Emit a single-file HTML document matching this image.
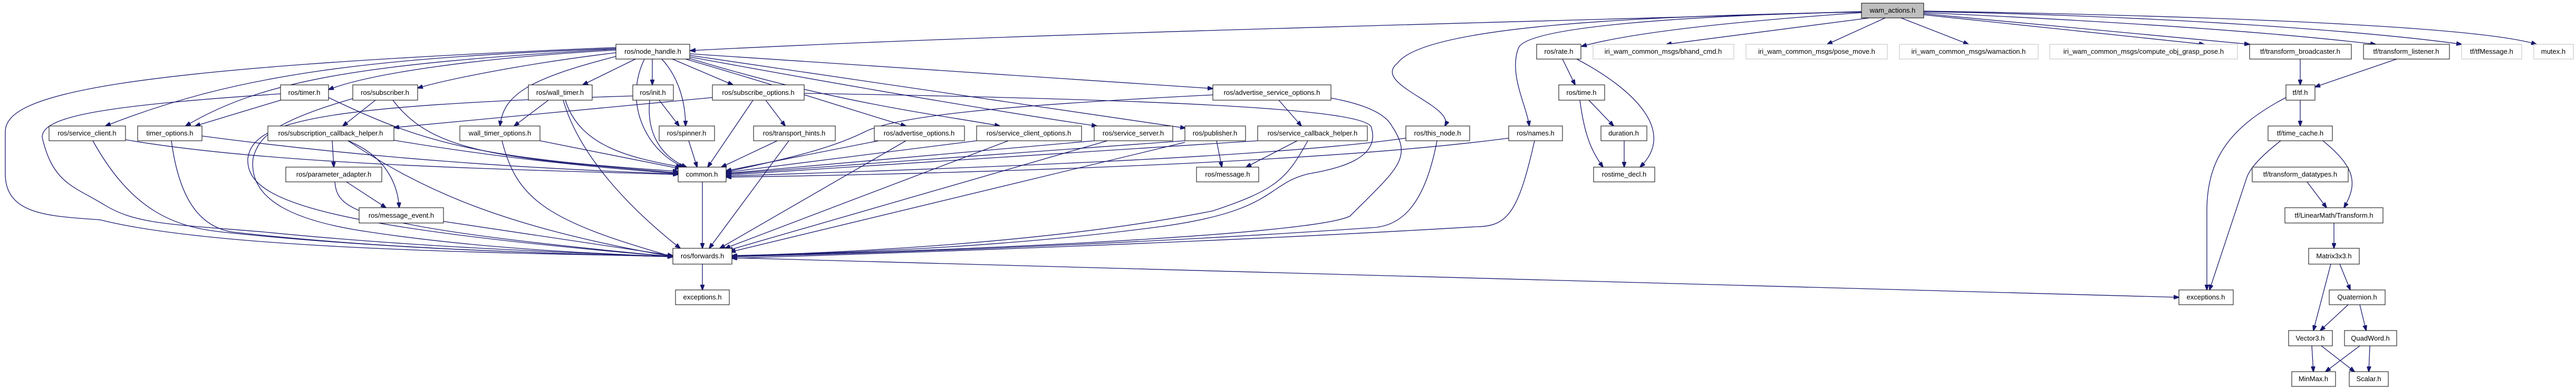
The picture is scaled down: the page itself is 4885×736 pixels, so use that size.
<!DOCTYPE html>
<html><head><meta charset="utf-8"><style>
html,body{margin:0;padding:0;background:#fff;}
svg{display:block;}
text{font-family:"Liberation Sans",sans-serif;font-size:13px;fill:#000;text-anchor:middle;}
.e{fill:none;stroke:#191970;stroke-width:1.3;marker-end:url(#a);}
.n{fill:#fff;stroke:#000;stroke-width:1;}
.g{fill:#fff;stroke:#bfbfbf;stroke-width:1;}
</style></head><body>
<svg width="4885" height="736" viewBox="0 0 4885 736" xmlns="http://www.w3.org/2000/svg">
<defs><marker id="a" markerWidth="11" markerHeight="8" refX="10" refY="4" orient="auto" markerUnits="userSpaceOnUse"><path d="M0,0 L11,4 L0,8 z" fill="#191970" stroke="#191970"/></marker></defs>
<g>
<!-- wam_actions edges -->
<path class="e" d="M3530,22 C3000,40 2000,60 1309,96"/>
<path class="e" d="M3530,24 C3300,40 3100,60 2999,88"/>
<path class="e" d="M3530,23 C3100,30 2700,50 2650,120 C2600,160 2760,200 2740,239"/>
<path class="e" d="M3530,22 C3200,30 2900,50 2880,90 C2860,140 2895,200 2900,239"/>
<path class="e" d="M3545,34 L3160,84"/>
<path class="e" d="M3575,34 L3465,84"/>
<path class="e" d="M3605,34 L3733,84"/>
<path class="e" d="M3648,28 L4180,84"/>
<path class="e" d="M3648,26 L4266,84"/>
<path class="e" d="M3648,24 C4000,40 4300,60 4505,84"/>
<path class="e" d="M3648,22 C4100,30 4500,60 4668,84"/>
<path class="e" d="M3648,21 C4200,30 4700,50 4810,84"/>
<!-- node_handle edges -->
<path class="e" d="M1168,95 C900,110 700,140 623,170"/>
<path class="e" d="M1168,100 C1000,120 850,150 792,167"/>
<path class="e" d="M1168,92 C700,110 450,140 200,239"/>
<path class="e" d="M1168,93 C700,120 500,150 352,239"/>
<path class="e" d="M1205,112 L1105,161"/>
<path class="e" d="M1168,107 C1000,150 955,180 948,239"/>
<path class="e" d="M1237,112 L1237,161"/>
<path class="e" d="M1255,112 C1290,150 1300,200 1300,239"/>
<path class="e" d="M1275,112 L1390,161"/>
<path class="e" d="M1300,112 C1500,170 1650,220 1718,239"/>
<path class="e" d="M1305,110 C1600,200 1800,220 1896,239"/>
<path class="e" d="M1308,108 C1700,180 1950,220 2080,239"/>
<path class="e" d="M1308,105 C1800,180 2100,220 2248,243"/>
<path class="e" d="M1308,102 L2300,168"/>
<path class="e" d="M1222,112 C1180,200 1230,290 1297,317"/>
<path class="e" d="M1168,90 C200,130 10,180 10,250 L10,330 C10,410 100,410 190,417 C400,470 900,480 1276,486"/>
<!-- into common.h -->
<path class="e" d="M623,185 C800,270 900,300 1286,325"/>
<path class="e" d="M745,190 C820,290 950,300 1286,328"/>
<path class="e" d="M238,265 C500,310 900,320 1286,331"/>
<path class="e" d="M383,258 C700,300 1000,320 1286,330"/>
<path class="e" d="M747,266 C950,300 1150,320 1286,329"/>
<path class="e" d="M1024,267 L1290,320"/>
<path class="e" d="M1072,190 C1100,280 1200,300 1292,317"/>
<path class="e" d="M1232,190 C1225,260 1260,300 1302,317"/>
<path class="e" d="M1306,267 L1322,317"/>
<path class="e" d="M1428,190 L1342,317"/>
<path class="e" d="M1474,267 L1368,317"/>
<path class="e" d="M1666,267 L1377,324"/>
<path class="e" d="M1852,267 L1377,327"/>
<path class="e" d="M2075,267 L1377,329"/>
<path class="e" d="M2247,267 L1377,330"/>
<path class="e" d="M2385,267 L1377,332"/>
<path class="e" d="M2300,180 C1900,200 1700,220 1640,250 C1580,280 1500,300 1377,326"/>
<path class="e" d="M2666,262 C2400,300 1800,320 1377,334"/>
<path class="e" d="M2861,262 C2500,310 1800,330 1377,336"/>
<!-- other -->
<path class="e" d="M1351,185 L747,242"/>
<path class="e" d="M712,190 L650,239"/>
<path class="e" d="M532,190 L370,239"/>
<path class="e" d="M1040,190 L975,239"/>
<path class="e" d="M1250,190 L1288,239"/>
<path class="e" d="M1452,190 L1489,239"/>
<path class="e" d="M2425,190 L2468,239"/>
<path class="e" d="M2307,267 L2317,317"/>
<path class="e" d="M2460,267 L2363,317"/>
<path class="e" d="M630,267 L633,317"/>
<path class="e" d="M660,267 C740,300 755,360 757,394"/>
<path class="e" d="M657,345 L732,394"/>
<path class="e" d="M2963,112 L2987,161"/>
<path class="e" d="M2990,112 C3100,170 3180,250 3110,317"/>
<path class="e" d="M3013,190 L3060,239"/>
<path class="e" d="M2996,190 C3005,260 3020,290 3040,317"/>
<path class="e" d="M3080,267 L3080,317"/>
<path class="e" d="M4362,112 L4362,161"/>
<path class="e" d="M4545,112 L4390,165"/>
<path class="e" d="M4362,190 L4362,239"/>
<path class="e" d="M4335,185 C4230,240 4185,300 4185,400 L4185,550"/>
<path class="e" d="M4325,267 C4270,310 4262,330 4258,345 L4190,550"/>
<path class="e" d="M4405,267 C4470,320 4470,350 4445,394"/>
<path class="e" d="M4375,345 L4412,394"/>
<path class="e" d="M4426,423 L4426,471"/>
<path class="e" d="M4437,501 L4457,550"/>
<path class="e" d="M4420,501 L4387,627"/>
<path class="e" d="M4453,578 L4400,627"/>
<path class="e" d="M4475,578 L4487,627"/>
<path class="e" d="M4384,656 L4387,705"/>
<path class="e" d="M4402,656 L4465,705"/>
<path class="e" d="M4475,656 L4410,705"/>
<path class="e" d="M4494,656 L4492,705"/>
<path class="e" d="M1332,501 L1332,550"/>
<path class="e" d="M1388,489 L4132,564"/>
<path class="e" d="M1332,345 L1332,471"/>
<!-- into forwards -->
<path class="e" d="M176,267 C250,400 330,430 420,440 C700,470 1000,480 1276,487"/>
<path class="e" d="M325,267 C340,380 380,430 440,440 C700,470 1000,480 1276,487"/>
<path class="e" d="M532,178 C200,200 80,220 80,260 C100,350 143,354 200,390 C260,425 319,425 500,440 C800,470 1100,480 1276,487"/>
<path class="e" d="M669,187 C520,230 490,260 480,300 C470,380 560,420 700,440 C900,470 1100,480 1276,487"/>
<path class="e" d="M660,267 C800,360 950,430 1276,487"/>
<path class="e" d="M635,345 C640,400 670,430 1276,487"/>
<path class="e" d="M841,420 L1276,485"/>
<path class="e" d="M1068,190 C1100,300 1200,400 1290,471"/>
<path class="e" d="M952,267 C980,380 1040,420 1276,487"/>
<path class="e" d="M1200,182 C600,200 480,230 470,300 C465,380 600,430 1276,487"/>
<path class="e" d="M1496,267 L1345,471"/>
<path class="e" d="M1718,267 L1365,471"/>
<path class="e" d="M1912,267 L1375,471"/>
<path class="e" d="M2100,267 L1380,475"/>
<path class="e" d="M2247,270 L1385,478"/>
<path class="e" d="M2480,267 C2440,340 2420,360 2300,400 C2000,460 1600,480 1388,485"/>
<path class="e" d="M2725,267 C2700,400 2650,430 2600,432 C2200,460 1700,480 1388,487"/>
<path class="e" d="M2910,267 C2880,400 2860,430 2800,430 C2300,460 1700,480 1388,490"/>
<path class="e" d="M1525,177 C2300,190 2580,210 2600,240 C2620,300 2540,320 2480,330 C2400,350 2420,400 2200,430 C1900,470 1600,480 1388,485"/>
<path class="e" d="M2524,186 C2600,200 2630,220 2640,240 C2680,300 2650,320 2560,410 C2500,440 2000,470 1388,486"/>
</g>
<g>
<rect x="3530" y="6" width="118" height="28" fill="#bfbfbf" stroke="#000"/><text x="3589" y="24">wam_actions.h</text>
<rect class="n" x="1168" y="84" width="140" height="28"/><text x="1238" y="102">ros/node_handle.h</text>
<rect class="n" x="532" y="161" width="91" height="29"/><text x="577" y="180">ros/timer.h</text>
<rect class="n" x="669" y="161" width="123" height="29"/><text x="730" y="180">ros/subscriber.h</text>
<rect class="n" x="1002" y="161" width="121" height="29"/><text x="1062" y="180">ros/wall_timer.h</text>
<rect class="n" x="1200" y="161" width="77" height="29"/><text x="1238" y="180">ros/init.h</text>
<rect class="n" x="1351" y="161" width="174" height="29"/><text x="1438" y="180">ros/subscribe_options.h</text>
<rect class="n" x="2300" y="161" width="224" height="29"/><text x="2412" y="180">ros/advertise_service_options.h</text>
<rect class="n" x="93" y="239" width="145" height="28"/><text x="165" y="257">ros/service_client.h</text>
<rect class="n" x="261" y="239" width="122" height="28"/><text x="322" y="257">timer_options.h</text>
<rect class="n" x="508" y="239" width="239" height="28"/><text x="627" y="257">ros/subscription_callback_helper.h</text>
<rect class="n" x="872" y="239" width="152" height="28"/><text x="948" y="257">wall_timer_options.h</text>
<rect class="n" x="1250" y="239" width="105" height="28"/><text x="1302" y="257">ros/spinner.h</text>
<rect class="n" x="1429" y="239" width="155" height="28"/><text x="1506" y="257">ros/transport_hints.h</text>
<rect class="n" x="1658" y="239" width="171" height="28"/><text x="1743" y="257">ros/advertise_options.h</text>
<rect class="n" x="1852" y="239" width="199" height="28"/><text x="1951" y="257">ros/service_client_options.h</text>
<rect class="n" x="2075" y="239" width="149" height="28"/><text x="2149" y="257">ros/service_server.h</text>
<rect class="n" x="2247" y="239" width="115" height="28"/><text x="2304" y="257">ros/publisher.h</text>
<rect class="n" x="2385" y="239" width="208" height="28"/><text x="2489" y="257">ros/service_callback_helper.h</text>
<rect class="n" x="2666" y="239" width="121" height="28"/><text x="2726" y="257">ros/this_node.h</text>
<rect class="n" x="2861" y="239" width="102" height="28"/><text x="2912" y="257">ros/names.h</text>
<rect class="n" x="542" y="317" width="182" height="28"/><text x="633" y="335">ros/parameter_adapter.h</text>
<rect class="n" x="681" y="394" width="160" height="29"/><text x="761" y="413">ros/message_event.h</text>
<rect class="n" x="1286" y="317" width="91" height="28"/><text x="1331" y="335">common.h</text>
<rect class="n" x="2269" y="317" width="118" height="28"/><text x="2328" y="335">ros/message.h</text>
<rect class="n" x="1276" y="471" width="112" height="30"/><text x="1332" y="490">ros/forwards.h</text>
<rect class="n" x="1281" y="550" width="102" height="28"/><text x="1332" y="568">exceptions.h</text>
<rect class="n" x="2914" y="84" width="84" height="28"/><text x="2956" y="102">ros/rate.h</text>
<rect class="g" x="3021" y="84" width="267" height="28"/><text x="3154" y="102">iri_wam_common_msgs/bhand_cmd.h</text>
<rect class="g" x="3311" y="84" width="268" height="28"/><text x="3445" y="102">iri_wam_common_msgs/pose_move.h</text>
<rect class="g" x="3602" y="84" width="263" height="28"/><text x="3733" y="102">iri_wam_common_msgs/wamaction.h</text>
<rect class="g" x="3887" y="84" width="356" height="28"/><text x="4065" y="102">iri_wam_common_msgs/compute_obj_grasp_pose.h</text>
<rect class="n" x="4266" y="84" width="193" height="28"/><text x="4362" y="102">tf/transform_broadcaster.h</text>
<rect class="n" x="4482" y="84" width="163" height="28"/><text x="4563" y="102">tf/transform_listener.h</text>
<rect class="g" x="4668" y="84" width="114" height="28"/><text x="4725" y="102">tf/tfMessage.h</text>
<rect class="g" x="4805" y="84" width="75" height="28"/><text x="4842" y="102">mutex.h</text>
<rect class="n" x="2956" y="161" width="87" height="29"/><text x="2999" y="180">ros/time.h</text>
<rect class="n" x="3036" y="239" width="87" height="28"/><text x="3079" y="257">duration.h</text>
<rect class="n" x="3022" y="317" width="116" height="28"/><text x="3080" y="335">rostime_decl.h</text>
<rect class="n" x="4335" y="161" width="55" height="29"/><text x="4362" y="180">tf/tf.h</text>
<rect class="n" x="4301" y="239" width="122" height="28"/><text x="4362" y="257">tf/time_cache.h</text>
<rect class="n" x="4271" y="317" width="182" height="28"/><text x="4362" y="335">tf/transform_datatypes.h</text>
<rect class="n" x="4333" y="394" width="186" height="29"/><text x="4426" y="413">tf/LinearMath/Transform.h</text>
<rect class="n" x="4378" y="471" width="96" height="30"/><text x="4426" y="490">Matrix3x3.h</text>
<rect class="n" x="4417" y="550" width="106" height="28"/><text x="4470" y="568">Quaternion.h</text>
<rect class="n" x="4132" y="550" width="103" height="28"/><text x="4183" y="568">exceptions.h</text>
<rect class="n" x="4340" y="627" width="83" height="29"/><text x="4381" y="646">Vector3.h</text>
<rect class="n" x="4446" y="627" width="99" height="29"/><text x="4495" y="646">QuadWord.h</text>
<rect class="n" x="4346" y="705" width="83" height="28"/><text x="4387" y="723">MinMax.h</text>
<rect class="n" x="4455" y="705" width="74" height="28"/><text x="4492" y="723">Scalar.h</text>
</g>
</svg>
</body></html>
